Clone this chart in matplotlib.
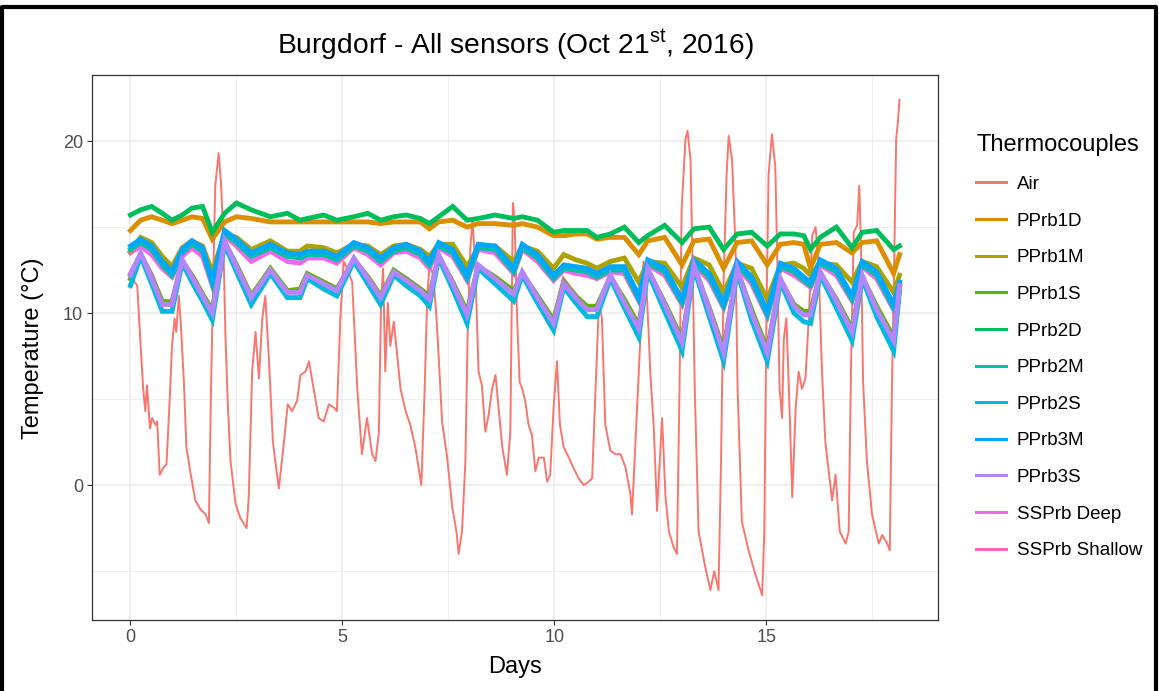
import matplotlib.pyplot as plt
from matplotlib.lines import Line2D
from matplotlib.ticker import MultipleLocator

plt.rcParams['font.family'] = ['Liberation Sans', 'DejaVu Sans']
plt.rcParams['mathtext.fontset'] = 'custom'
plt.rcParams['mathtext.rm'] = 'Liberation Sans'

# air temperature logger
air_days = [0.00, 0.05, 0.10, 0.16, 0.24, 0.30, 0.35, 0.39, 0.46, 0.51, 0.59, 0.63, 0.69, 0.77, 0.85,
            0.93, 0.98, 1.04, 1.08, 1.14, 1.19, 1.26, 1.32, 1.41, 1.53, 1.65, 1.77, 1.85, 1.90, 1.95,
            2.00, 2.08, 2.14, 2.19, 2.24, 2.30, 2.36, 2.48, 2.59, 2.74, 2.79, 2.87, 2.95, 3.03, 3.11,
            3.18, 3.26, 3.36, 3.50, 3.62, 3.71, 3.81, 3.93, 4.01, 4.13, 4.21, 4.32, 4.44, 4.56, 4.68,
            4.80, 4.87, 4.95, 5.03, 5.11, 5.23, 5.35, 5.46, 5.58, 5.70, 5.78, 5.86, 5.91, 5.96, 6.01,
            6.07, 6.13, 6.21, 6.29, 6.37, 6.49, 6.60, 6.72, 6.86, 6.94, 7.00, 7.06, 7.15, 7.23, 7.35,
            7.47, 7.59, 7.69, 7.74, 7.82, 7.90, 7.96, 8.02, 8.07, 8.14, 8.21, 8.29, 8.37, 8.45, 8.53,
            8.61, 8.69, 8.77, 8.88, 8.96, 9.02, 9.06, 9.12, 9.18, 9.24, 9.31, 9.39, 9.47, 9.55, 9.63,
            9.75, 9.83, 9.90, 9.98, 10.06, 10.13, 10.22, 10.34, 10.45, 10.57, 10.69, 10.81, 10.89, 10.97, 11.05,
            11.12, 11.20, 11.32, 11.44, 11.56, 11.68, 11.79, 11.83, 11.89, 11.95, 12.03, 12.10, 12.16, 12.22, 12.26,
            12.34, 12.42, 12.54, 12.62, 12.70, 12.81, 12.89, 12.95, 13.00, 13.09, 13.14, 13.21, 13.25, 13.31, 13.40,
            13.56, 13.68, 13.77, 13.87, 13.93, 13.99, 14.06, 14.11, 14.19, 14.27, 14.32, 14.42, 14.58, 14.74, 14.90,
            14.95, 15.00, 15.05, 15.13, 15.21, 15.25, 15.31, 15.37, 15.41, 15.47, 15.53, 15.61, 15.69, 15.76, 15.84,
            15.92, 16.00, 16.08, 16.16, 16.23, 16.31, 16.39, 16.47, 16.55, 16.63, 16.73, 16.87, 16.94, 17.00, 17.06,
            17.14, 17.19, 17.23, 17.28, 17.37, 17.49, 17.65, 17.73, 17.85, 17.91, 17.96, 18.02, 18.06, 18.10, 18.14]
air_temp = [11.5, 12.2, 11.8, 11.6, 8.1, 5.6, 4.3, 5.8, 3.3, 3.9, 3.5, 3.7, 0.6, 1.0, 1.2,
            5.2, 8.1, 9.7, 8.9, 11.0, 9.3, 6.0, 2.2, 0.8, -0.9, -1.4, -1.7, -2.2, 5.6, 11.8,
            17.4, 19.3, 17.4, 14.3, 8.7, 4.5, 1.4, -1.1, -1.9, -2.5, -0.7, 6.6, 8.9, 6.2, 9.7,
            11.0, 7.6, 2.5, -0.2, 2.5, 4.7, 4.3, 4.9, 6.4, 6.6, 7.2, 5.6, 3.9, 3.7, 4.7,
            4.5, 4.3, 9.7, 13.0, 12.6, 11.8, 5.6, 1.8, 3.9, 1.8, 1.4, 3.1, 10.6, 12.6, 6.6,
            10.6, 8.1, 9.5, 7.6, 5.6, 4.3, 3.5, 2.2, 0.0, 5.6, 11.0, 13.0, 12.0, 9.3, 3.7,
            1.6, -1.3, -2.7, -4.0, -2.7, 1.4, 9.7, 13.9, 15.5, 12.2, 6.6, 5.8, 3.1, 4.1, 5.6,
            6.4, 4.3, 2.2, 0.6, 3.1, 16.4, 15.5, 9.7, 6.0, 5.6, 4.9, 3.5, 2.9, 0.8, 1.6,
            1.6, 0.2, 0.6, 4.5, 7.2, 3.5, 2.2, 1.6, 1.0, 0.4, 0.0, 0.2, 0.4, 5.6, 10.6,
            9.7, 3.5, 2.0, 1.8, 1.8, 1.0, -0.5, -1.7, 1.4, 4.5, 8.7, 13.0, 12.0, 9.0, 6.6,
            3.5, -1.5, 3.9, -0.7, -2.7, -3.6, -4.0, 5.6, 16.0, 20.1, 20.6, 18.9, 13.9, 5.6, -2.7,
            -4.8, -6.1, -5.0, -6.1, 1.4, 11.8, 18.0, 20.3, 18.9, 13.9, 5.6, -2.1, -3.8, -5.2, -6.4,
            -2.7, 9.7, 18.0, 20.4, 18.5, 13.9, 5.6, 3.9, 8.5, 9.7, 5.6, -0.7, 4.5, 6.6, 5.6,
            6.2, 9.7, 14.5, 15.0, 12.8, 6.6, 2.5, 0.8, -0.9, 0.6, -2.7, -3.4, -2.7, 7.6, 14.7,
            15.1, 17.4, 13.9, 6.0, 1.4, -1.7, -3.4, -2.9, -3.4, -3.8, 5.6, 13.9, 20.1, 21.1, 22.4]

# buried thermocouples, all read on the same days
probe_days = [0.0, 0.24, 0.5, 0.75, 0.98, 1.22, 1.45, 1.7, 1.93, 2.22,
              2.5, 2.85, 3.3, 3.7, 4.0, 4.17, 4.56, 4.87, 5.27, 5.6,
              5.9, 6.21, 6.5, 6.84, 7.05, 7.27, 7.6, 7.94, 8.2, 8.6,
              9.04, 9.24, 9.6, 9.98, 10.22, 10.5, 10.77, 11.0, 11.32, 11.65,
              11.99, 12.2, 12.6, 13.01, 13.29, 13.65, 13.99, 14.31, 14.65, 15.02,
              15.33, 15.65, 15.88, 16.04, 16.27, 16.65, 17.02, 17.26, 17.6, 18.0,
              18.14]
pprb1d = [14.8, 15.4, 15.6, 15.4, 15.2, 15.4, 15.6, 15.5, 14.3, 15.3,
          15.6, 15.5, 15.3, 15.3, 15.3, 15.3, 15.3, 15.3, 15.3, 15.3,
          15.2, 15.3, 15.3, 15.3, 14.9, 15.3, 15.4, 15.0, 15.2, 15.2,
          15.1, 15.2, 15.0, 14.5, 14.5, 14.6, 14.6, 14.3, 14.4, 14.4,
          13.4, 14.2, 14.4, 12.8, 14.2, 14.3, 12.6, 14.1, 14.2, 12.8,
          14.0, 14.1, 14.0, 12.6, 14.0, 14.1, 13.5, 14.1, 14.2, 12.3,
          13.4]
pprb1m = [13.6, 14.4, 14.1, 13.3, 12.7, 13.8, 14.2, 13.9, 12.4, 14.6,
          14.4, 13.7, 14.2, 13.6, 13.6, 13.9, 13.8, 13.5, 14.0, 13.9,
          13.4, 13.9, 14.0, 13.7, 13.3, 14.0, 14.0, 12.7, 13.8, 13.9,
          13.0, 13.9, 13.6, 12.6, 13.4, 13.1, 12.9, 12.6, 13.0, 13.2,
          11.8, 13.0, 12.9, 11.5, 13.2, 12.8, 11.2, 12.9, 12.6, 10.8,
          12.8, 12.9, 12.6, 12.2, 12.9, 12.8, 11.8, 13.0, 12.7, 11.2,
          12.2]
pprb1s = [12.0, 13.4, 12.1, 10.7, 10.6, 13.0, 12.2, 11.1, 10.2, 14.1,
          12.8, 11.0, 12.6, 11.3, 11.4, 12.3, 11.8, 11.4, 13.1, 12.1,
          11.0, 12.5, 12.0, 11.4, 11.0, 13.3, 11.8, 10.1, 12.7, 12.1,
          11.3, 12.3, 11.0, 9.6, 11.8, 11.0, 10.4, 10.4, 12.1, 10.8,
          9.3, 12.5, 10.6, 8.5, 12.7, 10.3, 7.9, 12.5, 10.2, 7.9,
          11.9, 10.5, 10.1, 10.1, 12.3, 10.8, 9.1, 12.1, 10.4, 8.6,
          11.5]
pprb2d = [15.7, 16.0, 16.2, 15.8, 15.4, 15.7, 16.1, 16.2, 14.7, 15.8,
          16.4, 16.0, 15.6, 15.8, 15.4, 15.5, 15.7, 15.4, 15.6, 15.8,
          15.4, 15.6, 15.7, 15.5, 15.2, 15.6, 16.2, 15.4, 15.5, 15.7,
          15.5, 15.6, 15.4, 14.7, 14.8, 14.8, 14.8, 14.4, 14.6, 15.0,
          14.1, 14.5, 15.1, 14.1, 14.9, 15.0, 13.7, 14.6, 14.7, 13.9,
          14.6, 14.6, 14.5, 13.7, 14.4, 15.0, 13.8, 14.7, 14.8, 13.7,
          13.9]
pprb2m = [13.7, 14.1, 13.7, 12.8, 12.2, 13.5, 14.0, 13.6, 11.7, 14.6,
          14.1, 13.3, 13.8, 13.3, 13.2, 13.4, 13.4, 13.1, 13.9, 13.6,
          13.0, 13.6, 13.8, 13.4, 12.8, 13.9, 13.5, 12.0, 13.8, 13.7,
          12.4, 13.8, 13.2, 12.0, 12.6, 12.5, 12.4, 12.1, 12.5, 12.5,
          10.8, 12.9, 12.4, 10.6, 12.9, 12.1, 10.4, 12.8, 11.9, 9.9,
          12.7, 12.4, 11.9, 11.6, 12.9, 12.4, 10.8, 12.8, 12.2, 10.3,
          11.6]
pprb2s = [11.6, 13.3, 11.7, 10.1, 10.1, 12.9, 11.8, 10.7, 9.6, 14.0,
          12.4, 10.5, 12.3, 10.9, 10.9, 12.0, 11.4, 11.0, 13.0, 11.7,
          10.5, 12.2, 11.6, 11.0, 10.4, 13.2, 11.4, 9.4, 12.6, 11.7,
          10.7, 12.2, 10.6, 9.0, 11.5, 10.6, 9.8, 9.8, 12.0, 10.3,
          8.6, 12.4, 10.1, 7.8, 12.6, 9.8, 7.2, 12.4, 9.6, 7.2,
          11.8, 10.0, 9.5, 9.4, 12.2, 10.3, 8.4, 12.0, 9.8, 7.8,
          11.3]
pprb3m = [13.9, 14.3, 13.9, 13.0, 12.4, 13.7, 14.2, 13.8, 11.9, 14.8,
          14.3, 13.5, 14.0, 13.5, 13.4, 13.6, 13.6, 13.3, 14.1, 13.8,
          13.2, 13.8, 14.0, 13.6, 13.0, 14.1, 13.7, 12.2, 14.0, 13.9,
          12.6, 14.0, 13.4, 12.2, 12.8, 12.7, 12.6, 12.3, 12.7, 12.7,
          11.0, 13.1, 12.6, 10.8, 13.1, 12.3, 10.6, 13.0, 12.1, 10.1,
          12.9, 12.6, 12.1, 11.8, 13.1, 12.6, 11.0, 13.0, 12.4, 10.5,
          11.8]
pprb3s = [12.2, 13.5, 12.0, 10.5, 10.5, 13.1, 12.1, 11.0, 10.0, 14.2,
          12.7, 10.9, 12.5, 11.2, 11.2, 12.2, 11.7, 11.3, 13.2, 12.0,
          10.9, 12.4, 11.9, 11.3, 10.8, 13.4, 11.7, 9.9, 12.8, 12.0,
          11.1, 12.4, 10.9, 9.4, 11.7, 10.9, 10.2, 10.2, 12.2, 10.6,
          9.1, 12.6, 10.5, 8.3, 12.8, 10.2, 7.7, 12.6, 10.0, 7.7,
          12.0, 10.4, 9.9, 9.9, 12.4, 10.7, 8.9, 12.2, 10.2, 8.4,
          11.6]
ssprb_deep = [13.5, 13.9, 13.4, 12.6, 12.1, 13.3, 13.8, 13.3, 11.6, 14.5,
              13.9, 13.0, 13.6, 13.0, 12.9, 13.2, 13.2, 12.9, 13.8, 13.4,
              12.8, 13.5, 13.6, 13.2, 12.6, 13.8, 13.3, 11.9, 13.7, 13.5,
              12.3, 13.7, 13.0, 11.9, 12.5, 12.3, 12.2, 12.0, 12.4, 12.3,
              10.7, 12.8, 12.2, 10.5, 12.8, 11.9, 10.3, 12.7, 11.7, 9.8,
              12.6, 12.2, 11.8, 11.5, 12.8, 12.2, 10.7, 12.7, 12.0, 10.2,
              11.5]
ssprb_shallow = [12.3, 13.4, 12.2, 10.6, 10.7, 13.0, 12.2, 11.1, 10.1, 14.1,
                 12.8, 11.0, 12.5, 11.3, 11.3, 12.2, 11.8, 11.4, 13.1, 12.1,
                 11.0, 12.4, 12.0, 11.4, 10.9, 13.3, 11.8, 10.0, 12.7, 12.1,
                 11.2, 12.3, 11.0, 9.5, 11.9, 11.0, 10.3, 10.3, 12.1, 10.7,
                 9.2, 12.5, 10.6, 8.4, 12.7, 10.3, 7.8, 12.5, 10.1, 7.8,
                 11.9, 10.5, 10.0, 10.0, 12.3, 10.8, 9.0, 12.1, 10.3, 8.5,
                 11.5]

names = ['Air', 'PPrb1D', 'PPrb1M', 'PPrb1S', 'PPrb2D', 'PPrb2M', 'PPrb2S',
         'PPrb3M', 'PPrb3S', 'SSPrb Deep', 'SSPrb Shallow']
colors = ['#F8766D', '#DB8E00', '#AEA200', '#64B200', '#00BD5C', '#00C1A7',
          '#00BADE', '#00A6FF', '#B385FF', '#EF67EB', '#FF63B6']
probes = [pprb1d, pprb1m, pprb1s, pprb2d, pprb2m, pprb2s, pprb3m, pprb3s,
          ssprb_deep, ssprb_shallow]
# soil-station probes go underneath the profile probes
zorders = [3, 4, 5, 6, 7, 8, 9, 10, 2.5, 2.6]

W, H = 1159, 691
fig = plt.figure(figsize=(W / 100, H / 100), dpi=100)
ax = fig.add_axes([92 / W, 1 - 620 / H, (938 - 92) / W, (620 - 75) / H])

ax.plot(air_days, air_temp, color=colors[0], lw=1.4, zorder=2)
for vals, c, z in zip(probes, colors[1:], zorders):
    ax.plot(probe_days, vals, color=c, lw=3.5, zorder=z, solid_joinstyle='miter')

ax.xaxis.set_major_locator(MultipleLocator(5))
ax.xaxis.set_minor_locator(MultipleLocator(2.5))
ax.yaxis.set_major_locator(MultipleLocator(10))
ax.yaxis.set_minor_locator(MultipleLocator(5))
ax.grid(which='major', color='#EBEBEB', lw=1.1, zorder=0)
ax.grid(which='minor', color='#EBEBEB', lw=0.55, zorder=0)
ax.set_axisbelow(True)
ax.tick_params(which='minor', length=0)
ax.tick_params(which='major', length=3.5, width=0.8, color='#333333',
               labelcolor='#4D4D4D', labelsize=13, pad=3)
for s in ax.spines.values():
    s.set_color('#333333')
    s.set_linewidth(0.9)

fig.text(515 / W, 1 - 45 / H, r'Burgdorf - All sensors (Oct 21$^{\rm st}$, 2016)',
         ha='center', va='center', fontsize=20.3)
fig.text(515 / W, 1 - 667 / H, 'Days', ha='center', va='center', fontsize=17)
fig.text(33 / W, 1 - 348 / H, 'Temperature (°C)', ha='center', va='center',
         rotation=90, fontsize=17)

handles = [Line2D([], [], color=c, lw=2.2) for c in colors]
leg = ax.legend(handles, names, title='Thermocouples', loc='upper left',
                bbox_to_anchor=(967 / W, 1 - 125 / H), bbox_transform=fig.transFigure,
                frameon=False, fontsize=13.5, title_fontsize=17, alignment='left',
                handlelength=1.6, handletextpad=0.55, labelspacing=1.04, borderpad=0)

# frame around the whole figure
fig.add_artist(Line2D([0.002, 0.002, 0.997, 0.997], [0, 0.99, 0.99, 0],
                      transform=fig.transFigure, color='black', lw=3))

fig.savefig('out.png', dpi=100)
